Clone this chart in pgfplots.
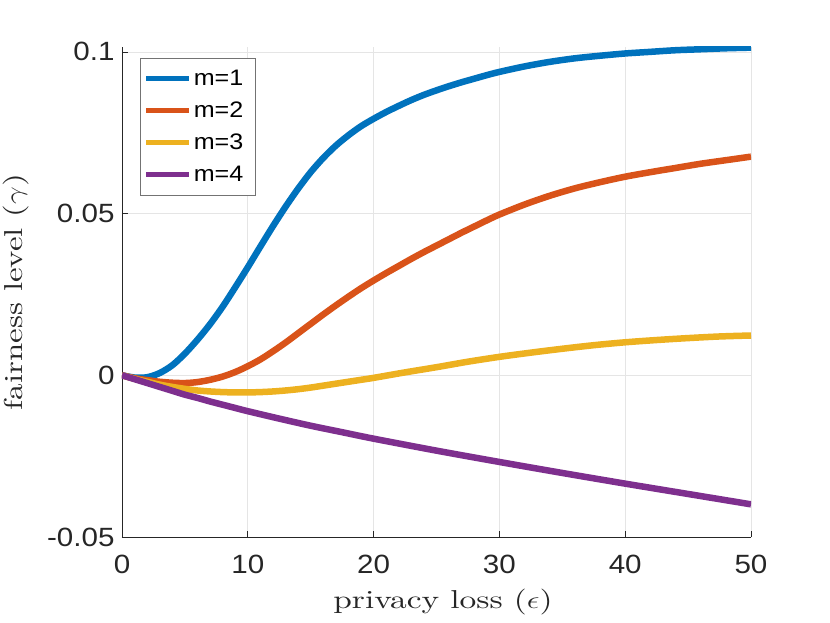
\documentclass[border=0pt]{standalone}
\usepackage{pgfplots}
\pgfplotsset{compat=1.18}
\usepackage{fontspec}
\newfontfamily\hel[FakeStretch=1.12]{Liberation Sans}
\newfontfamily\cmten{lmroman10-regular.otf}
\definecolor{mblue}{rgb}{0,0.447,0.741}
\definecolor{morange}{rgb}{0.85,0.325,0.098}
\definecolor{myellow}{rgb}{0.929,0.694,0.125}
\definecolor{mpurple}{rgb}{0.494,0.184,0.556}
\definecolor{mgray}{rgb}{0.15,0.15,0.15}
\begin{document}
\begin{tikzpicture}
\path[use as bounding box] (-122bp,-86bp) rectangle (708bp,537bp);
\begin{axis}[
  at={(0,0)}, anchor=south west,
  scale only axis, width=629bp, height=490bp,
  xmin=0, xmax=50, ymin=-0.05, ymax=0.1015,
  axis lines*=left,
  axis line style={mgray, line width=0.6bp},
  xtick={0,10,20,30,40,50},
  ytick={-0.05,0,0.05,0.1},
  yticklabels={-0.05,0,0.05,0.1},
  xticklabels={0,10,20,30,40,50},
  tick align=inside,
  major tick length=6bp,
  tick style={mgray, line width=0.6bp},
  grid=major,
  grid style={black!10, line width=0.6bp},
  ticklabel style={font=\hel\fontsize{26.5}{31}\selectfont, text=mgray},
  xticklabel style={yshift=-15bp},
  yticklabel style={xshift=-4bp},
  xlabel={\scalebox{1.29}[1]{privacy loss ($\epsilon$)}},
  ylabel={\scalebox{1.27}[1]{fairness level ($\gamma$)}},
  label style={font=\cmten\fontsize{26}{31}\selectfont, text=mgray},
  xlabel style={at={(axis description cs:0.5103,-0.1337)}, anchor=center},
  ylabel style={at={(axis description cs:-0.1685,0.5)}, anchor=center, rotate=0},
  legend style={at={(0.0286,0.978)}, anchor=north west, draw=black!55, line width=0.6bp,
    font=\hel\fontsize{22.5}{27}\selectfont, inner xsep=3bp, inner ysep=10bp,
    row sep=11bp, cells={anchor=west}},
  legend image code/.code={\draw[#1,line width=5.5bp] (0bp,0bp) -- (43bp,0bp);},
  every axis plot/.append style={line width=6.5bp, smooth},
]
\addplot[mblue] coordinates {
(0,0) (1,-0.0007) (2,-0.0006) (3,0.0007) (4,0.0031) (5,0.0067) (6,0.0110) (7,0.0158)
(8,0.0212) (9,0.0272) (10,0.0334) (11,0.0398) (12,0.0461) (13,0.0521) (14,0.0577)
(15,0.0628) (16,0.0672) (17,0.0710) (18,0.0742) (19,0.0770) (20,0.0793) (21,0.0814)
(22,0.0833) (23,0.0851) (24,0.0867) (25,0.0881) (26,0.0894) (27,0.0906) (28,0.0917)
(29,0.0928) (30,0.0938) (32,0.0955) (34,0.0969) (36,0.0980) (38,0.0988) (40,0.0995)
(42,0.1000) (44,0.1005) (46,0.1008) (48,0.1011) (50,0.1013)
};
\addlegendentry{m=1\kern7bp}
\addplot[morange] coordinates {
(0,0) (1,-0.0009) (2,-0.0015) (3,-0.0020) (4,-0.0023) (5,-0.0024) (6,-0.0021)
(7,-0.0014) (8,-0.0004) (9,0.0010) (10,0.0028) (11,0.0049) (12,0.0074) (13,0.0101)
(14,0.0130) (15,0.0159) (16,0.0188) (17,0.0216) (18,0.0243) (19,0.0269) (20,0.0293)
(21,0.0316) (22,0.0338) (23,0.0360) (24,0.0381) (25,0.0401) (26,0.0421) (27,0.0441)
(28,0.0460) (29,0.0479) (30,0.0497) (32,0.0528) (34,0.0555) (36,0.0578) (38,0.0597)
(40,0.0614) (42,0.0628) (44,0.0641) (46,0.0654) (48,0.0665) (50,0.0676)
};
\addlegendentry{m=2\kern7bp}
\addplot[myellow] coordinates {
(0,0) (1,-0.0011) (2,-0.0020) (3,-0.0029) (4,-0.0036) (5,-0.0042) (6,-0.0047)
(7,-0.0050) (8,-0.0052) (9,-0.0053) (10,-0.0053) (11,-0.0052) (12,-0.0050)
(13,-0.0047) (14,-0.0043) (15,-0.0038) (16,-0.0032) (17,-0.0026) (18,-0.0020)
(19,-0.0014) (20,-0.0008) (22.5,0.0009) (25,0.0025) (27.5,0.0042) (30,0.0057)
(32.5,0.0070) (35,0.0082) (37.5,0.0093) (40,0.0102) (42.5,0.0109) (45,0.0115)
(47.5,0.0120) (50,0.0123)
};
\addlegendentry{m=3\kern7bp}
\addplot[mpurple] coordinates {
(0,0) (1,-0.0012) (2,-0.0024) (3,-0.0036) (4,-0.0048) (5,-0.0060) (6,-0.0070)
(7,-0.0081) (8,-0.0091) (9,-0.0101) (10,-0.0111) (12.5,-0.0134) (15,-0.0156)
(17.5,-0.0176) (20,-0.0196) (25,-0.0233) (30,-0.0268) (35,-0.0302) (40,-0.0335)
(45,-0.0367) (50,-0.0399)
};
\addlegendentry{m=4\kern7bp}
\end{axis}
\end{tikzpicture}
\end{document}
